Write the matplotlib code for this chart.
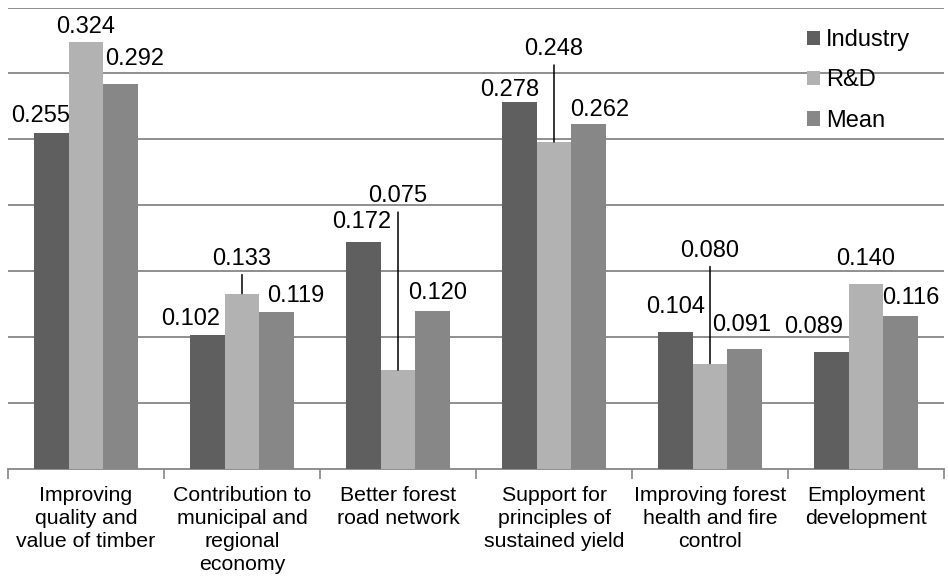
import matplotlib
matplotlib.use("Agg")
import matplotlib.pyplot as plt
import numpy as np

plt.rcParams['font.family'] = ['Liberation Sans', 'DejaVu Sans']

categories = [
    "Improving\nquality and\nvalue of timber",
    "Contribution to\nmunicipal and\nregional\neconomy",
    "Better forest\nroad network",
    "Support for\nprinciples of\nsustained yield",
    "Improving forest\nhealth and fire\ncontrol",
    "Employment\ndevelopment",
]
series_names = ["Industry", "R&D", "Mean"]
industry = [0.255, 0.102, 0.172, 0.278, 0.104, 0.089]
rnd = [0.324, 0.133, 0.075, 0.248, 0.080, 0.140]
mean = [0.292, 0.119, 0.120, 0.262, 0.091, 0.116]

colors = ["#5f5f5f", "#b2b2b2", "#878787"]

# Label placement (pixel offsets from the top-centre of each bar) and
# whether a leader line connects the label to its bar.
label_offsets = [
    [(-11, 17), (-17, 16), (-2, 20), (-10, 12), (0, 25), (-18, 25)],
    [(0, 15), (0, 35), (0, 174), (0, 93), (0, 113), (0, 25)],
    [(14, 25), (19, 16), (5, 18), (11, 14), (-3, 24), (10, 18)],
]
leader = [
    [False] * 6,
    [False, True, True, True, True, False],
    [False] * 6,
]

W, H = 948, 581
fig = plt.figure(figsize=(W / 100, H / 100), dpi=100)
ax = fig.add_axes([8 / W, (H - 469) / H, (944 - 8) / W, (469 - 7.5) / H])

n = len(categories)
x = np.arange(n)
bw = 1 / 4.5
data = [industry, rnd, mean]
for i, (vals, c, name) in enumerate(zip(data, colors, series_names)):
    pos = x + (i - 1) * bw
    ax.bar(pos, vals, width=bw, color=c, label=name, zorder=3, linewidth=0)
    for j, v in enumerate(vals):
        dx, dy = label_offsets[i][j]
        ax.annotate(f"{v:.3f}", xy=(pos[j], v), xytext=(dx, dy),
                    textcoords="offset pixels", ha="center", va="center",
                    fontsize=17, color="black", zorder=5)
        if leader[i][j]:
            ax.annotate("", xy=(pos[j], v), xytext=(0, dy - 16),
                        textcoords="offset pixels",
                        arrowprops=dict(arrowstyle="-", color="black", lw=1.1,
                                        shrinkA=0, shrinkB=0),
                        zorder=5)

ax.set_xlim(-0.5, n - 0.5)
ax.set_ylim(0, 0.35)
ax.set_yticks(np.arange(0.05, 0.351, 0.05))
ax.yaxis.grid(True, color="#868686", lw=1.3, zorder=0)
ax.tick_params(axis="y", left=False, labelleft=False)

ax.set_xticks(np.arange(-0.5, n, 1.0))
ax.set_xticklabels([])
ax.set_xticks(x, minor=True)
ax.set_xticklabels(categories, minor=True, fontsize=15.3, linespacing=1.27,
                   va="top")
ax.tick_params(axis="x", which="major", length=7, color="#868686", width=1.2,
               direction="out")
ax.tick_params(axis="x", which="minor", length=0, pad=12)

for s in ["top", "right", "left"]:
    ax.spines[s].set_visible(False)
ax.spines["bottom"].set_color("#868686")
ax.spines["bottom"].set_linewidth(1.3)

leg = ax.legend(loc="upper left", bbox_to_anchor=(807 / W, 1 - 29 / H),
                bbox_transform=fig.transFigure, frameon=False, fontsize=17,
                handlelength=0.55, handleheight=0.55, handletextpad=0.25,
                labelspacing=0.78, borderpad=0, borderaxespad=0)

fig.savefig("out.png", dpi=100, facecolor="white")
